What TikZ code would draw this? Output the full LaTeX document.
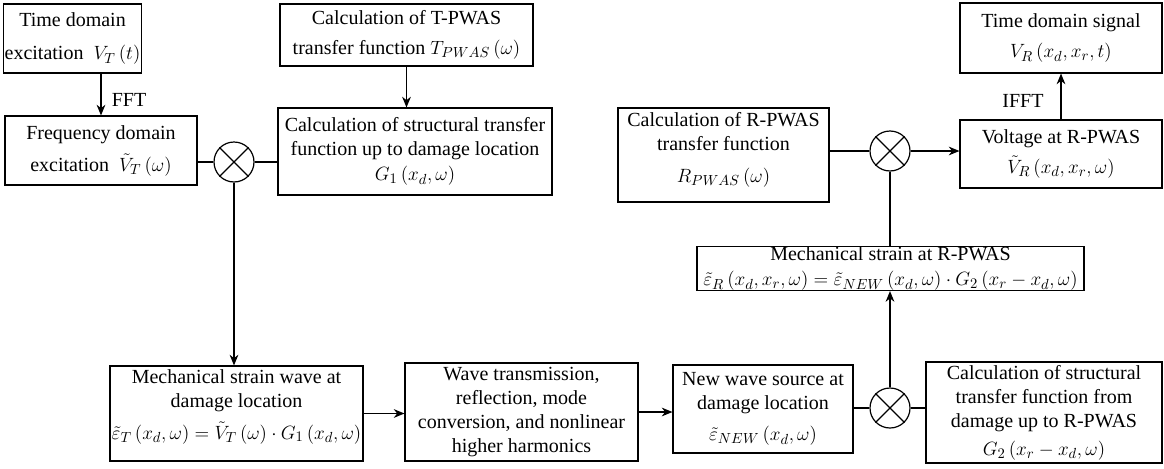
\documentclass[tikz,border=0pt]{standalone}
\usepackage{fontspec}
\setmainfont{Liberation Serif}
\usetikzlibrary{arrows.meta,calc}
\newcommand{\pl}{\left(}
\newcommand{\pr}{\right)}
\tikzset{
  box/.style={draw, line width=0.8pt, align=center, inner sep=1pt, font=\fontsize{15}{18}\selectfont},
  wh/.style 2 args={minimum width=#1*0.75pt, minimum height=#2*0.75pt},
  mult/.style={draw, circle, line width=0.9pt, minimum size=30pt, inner sep=0pt},
  conn/.style={line width=1pt},
  arr/.style={conn, -{Stealth[length=8pt,width=6.5pt,inset=2.5pt]}},
  lbl/.style={font=\fontsize{15}{18}\selectfont, inner sep=0pt},
}
\begin{document}
\begin{tikzpicture}[x=0.75pt,y=-0.75pt]
\useasboundingbox (0,0) rectangle (1164,468);
% boxes
\node[box, wh={135}{69}] (tde) at (72.5,38.5) {Time domain\\[7pt]excitation\ \ $V_T\pl t\pr$};
\node[box, wh={192}{69}] (fde) at (101,150.5) {Frequency domain\\[6pt]excitation\ \ $\tilde V_T\pl\omega\pr$};
\node[box, wh={253}{62}] (tpwas) at (406.5,35) {Calculation of T-PWAS\\[4pt]transfer function $T_{PWAS}\pl\omega\pr$};
\node[box, wh={274}{87}] (g1) at (415,151.5) {Calculation of structural transfer\\function up to damage location\\[1pt]$G_1\pl x_d,\omega\pr$};
\node[box, wh={211}{94}] (rpwas) at (723.5,155) {Calculation of R-PWAS\\transfer function\\[6pt]$R_{PWAS}\pl\omega\pr$\\[-6pt]};
\node[box, wh={202}{70}] (tds) at (1061,38) {Time domain signal\\[5pt]$V_R\pl x_d,x_r,t\pr$};
\node[box, wh={202}{68}] (vr) at (1061,154) {Voltage at R-PWAS\\[4pt]$\tilde V_R\pl x_d,x_r,\omega\pr$};
\node[box, wh={387}{42}, inner sep=0pt] (msr) at (890.5,268.5) {Mechanical strain at R-PWAS\\[1pt]$\tilde\varepsilon_R\pl x_d,x_r,\omega\pr=\tilde\varepsilon_{NEW}\pl x_d,\omega\pr\cdot G_2\pl x_r-x_d,\omega\pr$};
\node[box, wh={253}{95}] (mswd) at (236.5,413.5) {Mechanical strain wave at\\damage location\\[6pt]$\tilde\varepsilon_T\pl x_d,\omega\pr=\tilde V_T\pl\omega\pr\cdot G_1\pl x_d,\omega\pr$\\[-4pt]};
\node[box, wh={233}{98}] (wt) at (521.5,412) {Wave transmission,\\reflection, mode\\conversion, and nonlinear\\higher harmonics};
\node[box, wh={180}{88}] (nws) at (763,409) {New wave source at\\damage location\\[5pt]$\tilde\varepsilon_{NEW}\pl x_d,\omega\pr$};
\node[box, wh={236}{101}] (g2) at (1044,412.5) {Calculation of structural\\transfer function from\\damage up to R-PWAS\\[3pt]$G_2\pl x_r-x_d,\omega\pr$};
% multipliers
\node[mult] (c1) at (234,162) {};
\node[mult] (c2) at (890,151) {};
\node[mult] (c3) at (890,408) {};
\foreach \c in {c1,c2,c3} {\draw[line width=0.9pt] (\c.45)--(\c.225) (\c.135)--(\c.315);}
% labels
\node[lbl] (fft) at (129,100) {FFT};
\node[lbl] (ifft) at (1023,101) {IFFT};
% connectors
\draw[arr] (tde.south -| fde.north) -- (fde.north);
\draw[arr] (tpwas.south) -- (g1.north -| tpwas.south);
\draw[conn] (fde.east |- c1) -- (c1.west);
\draw[conn] (c1.east) -- (g1.west |- c1);
\draw[arr] (c1.south) -- (c1.south |- mswd.north);
\draw[arr] (mswd.east) -- (wt.west |- mswd.east);
\draw[arr] (wt.east) -- (nws.west |- wt.east);
\draw[conn] (nws.east |- c3) -- (c3.west);
\draw[conn] (c3.east) -- (g2.west |- c3);
\draw[arr] (c3.north) -- (c3.north |- msr.south);
\draw[conn] (msr.north -| c2) -- (c2.south);
\draw[conn] (rpwas.east |- c2) -- (c2.west);
\draw[arr] (c2.east) -- (vr.west |- c2);
\draw[arr] (vr.north) -- (tds.south);
\end{tikzpicture}
\end{document}
